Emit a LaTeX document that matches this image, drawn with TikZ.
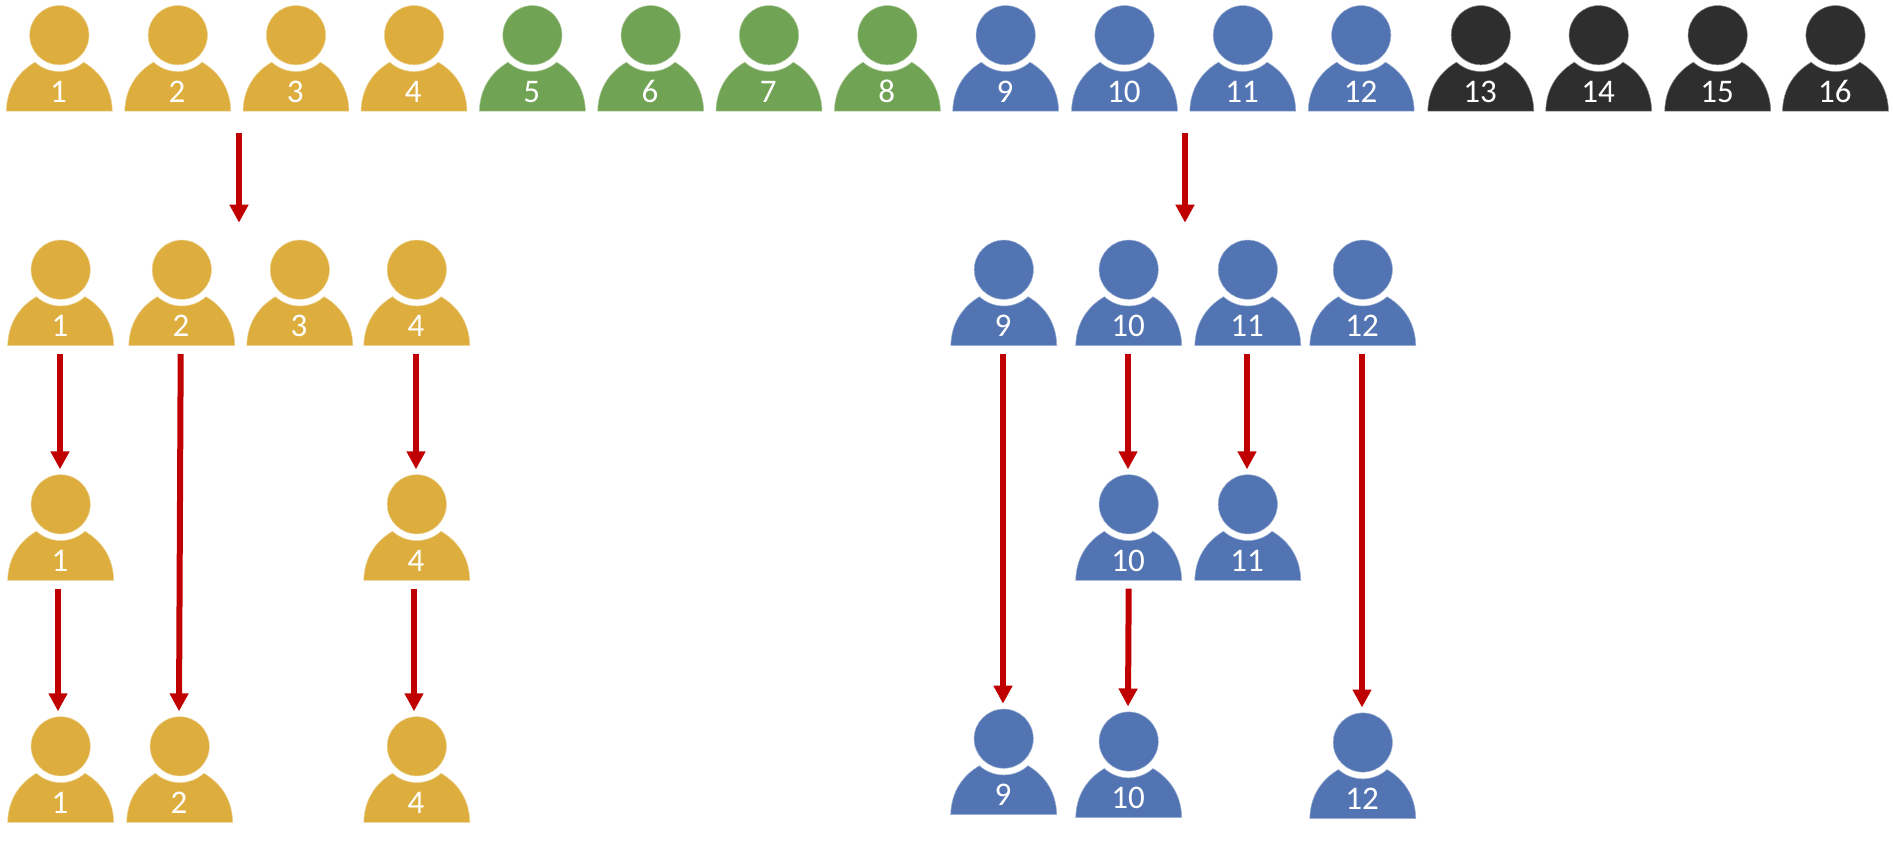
\documentclass[tikz,border=0pt]{standalone}
\usepackage{fontspec}
\setmainfont{Carlito}
\usetikzlibrary{arrows.meta}
\definecolor{gold}{HTML}{DDAE3D}
\definecolor{leaf}{HTML}{71A354}
\definecolor{steel}{HTML}{5274B3}
\definecolor{coal}{HTML}{2E2E2E}
\definecolor{flowred}{HTML}{C00000}
\tikzset{
  personbox/.style={rectangle,inner sep=0pt,outer sep=0pt,minimum width=106pt,minimum height=119.3pt},
  digit/.style={text=white,font=\fontsize{33}{35}\selectfont,inner sep=0pt,outer sep=0pt,anchor=base},
  flow/.style={draw=flowred,line width=6pt,-{Triangle[width=18pt,length=18pt,fill=flowred]}},
}
% name, centre x, bottom y (pixels from the top), colour, text
\newcommand{\persona}[5]{%
  \begin{scope}[shift={(#2pt,-#3pt)}]
    \fill[#4,draw=#4!55!white,line width=.5pt] (0pt,76pt) circle[radius=29.6pt];
    \fill[#4,draw=#4!55!white,line width=.5pt] (-53pt,0pt) .. controls (-52.5pt,22pt) and (-42pt,38.5pt) .. (-24.3pt,49pt)
      arc[start angle=228,end angle=312,radius=36.3pt]
      .. controls (42pt,38.5pt) and (52.5pt,22pt) .. (53pt,0pt) -- cycle;
    \node[digit] (#1l) at (-.7pt,9pt) {#5};
    \node[personbox] (#1) at (0pt,51.35pt) {};
  \end{scope}}
\begin{document}
\begin{tikzpicture}[x=1pt,y=1pt]
\useasboundingbox (0,0) rectangle (1893,-843);
\fill[white] (0,0) rectangle (1893,-843);
% top row
\persona{t1}{59.3}{111.2}{gold}{1}
\persona{t2}{177.8}{111.2}{gold}{2}
\persona{t3}{296}{111.2}{gold}{3}
\persona{t4}{414}{111.2}{gold}{4}
\persona{t5}{532.4}{111.2}{leaf}{5}
\persona{t6}{650.7}{111.2}{leaf}{6}
\persona{t7}{769}{111.2}{leaf}{7}
\persona{t8}{887.4}{111.2}{leaf}{8}
\persona{t9}{1005.7}{111.2}{steel}{9}
\persona{t10}{1124.5}{111.2}{steel}{10}
\persona{t11}{1242.8}{111.2}{steel}{11}
\persona{t12}{1361.2}{111.2}{steel}{12}
\persona{t13}{1480.8}{111.2}{coal}{13}
\persona{t14}{1598.7}{111.2}{coal}{14}
\persona{t15}{1717.7}{111.2}{coal}{15}
\persona{t16}{1835.5}{111.2}{coal}{16}
% second row
\persona{a1}{60.7}{345.7}{gold}{1}
\persona{a2}{181.8}{345.7}{gold}{2}
\persona{a3}{299.8}{345.7}{gold}{3}
\persona{a4}{416.8}{345.7}{gold}{4}
\persona{a9}{1003.8}{345.7}{steel}{9}
\persona{a10}{1128.7}{345.7}{steel}{10}
\persona{a11}{1247.8}{345.7}{steel}{11}
\persona{a12}{1362.8}{345.7}{steel}{12}
% third row
\persona{b1}{60.7}{580.3}{gold}{1}
\persona{b4}{416.8}{580.3}{gold}{4}
\persona{b10}{1128.7}{580.3}{steel}{10}
\persona{b11}{1247.8}{580.3}{steel}{11}
% fourth row
\persona{c1}{60.7}{822.3}{gold}{1}
\persona{c2}{179.7}{822.3}{gold}{2}
\persona{c4}{416.8}{822.3}{gold}{4}
\persona{c9}{1003.7}{814.7}{steel}{9}
\persona{c10}{1128.7}{817.5}{steel}{10}
\persona{c12}{1362.8}{818.5}{steel}{12}
% split arrows
\coordinate (splitLs) at (239,-133);
\coordinate (splitLe) at (239,-222.7);
\coordinate (splitRs) at (1185,-133);
\coordinate (splitRe) at (1185,-222.7);
\draw[flow] (splitLs) -- (splitLe);
\draw[flow] (splitRs) -- (splitRe);
% gold arrows
\draw[flow] ([xshift=-.7pt]a1.south) -- ([xshift=-.7pt]b1.north);
\draw[flow] ([xshift=-1.1pt]a2.south) -- ([xshift=-.7pt]c2.north);
\draw[flow] ([xshift=-.8pt]a4.south) -- ([xshift=-.8pt]b4.north);
\draw[flow] ([xshift=-2.7pt]b1.south) -- ([xshift=-2.7pt]c1.north);
\draw[flow] ([xshift=-2.8pt]b4.south) -- ([xshift=-2.8pt]c4.north);
% blue arrows
\draw[flow] ([xshift=-.8pt]a9.south) -- ([xshift=-.7pt]c9.north);
\draw[flow] ([xshift=-.7pt]a10.south) -- ([xshift=-.7pt]b10.north);
\draw[flow] ([xshift=-.8pt]a11.south) -- ([xshift=-.8pt]b11.north);
\draw[flow] ([xshift=-.8pt]a12.south) -- ([xshift=-.8pt]c12.north);
\draw[flow] ([xshift=0pt]b10.south) -- ([xshift=-.7pt]c10.north);
\end{tikzpicture}
\end{document}
